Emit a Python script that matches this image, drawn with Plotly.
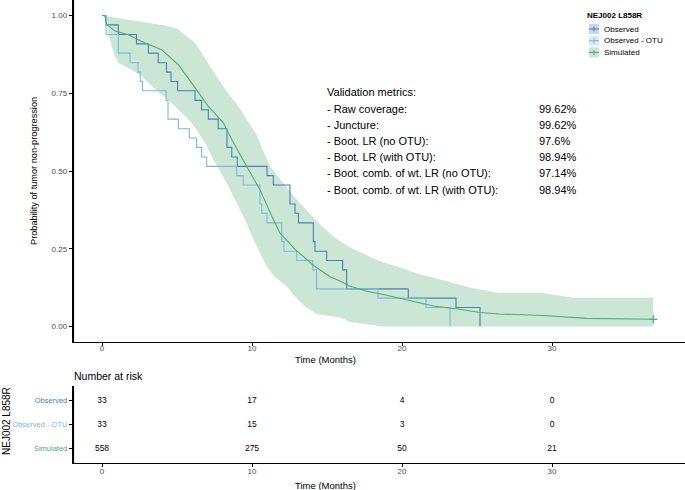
import plotly.graph_objects as go

# ---------------- data ----------------
obs_time = [0, 0.27, 1.09, 2.3, 3.09, 3.75, 4.3, 4.6, 5.04, 6.2, 6.64, 7.09, 7.75, 8.33, 8.65,
            9.02, 11.0, 11.42, 12.53, 12.87, 13.1, 14.09, 14.2, 14.98, 16.04, 16.31, 20.42, 23.6, 25.2]
obs_surv = [1.0, 0.970, 0.939, 0.909, 0.879, 0.848, 0.818, 0.788, 0.758, 0.727, 0.697, 0.667, 0.636,
            0.576, 0.545, 0.515, 0.485, 0.455, 0.394, 0.364, 0.333, 0.273, 0.242, 0.212, 0.182, 0.121,
            0.091, 0.061, 0.0]

otu_time = [0, 0.27, 1.09, 1.87, 2.4, 2.55, 2.7, 4.27, 4.4, 5.09, 5.82, 6.31, 6.64, 6.98, 8.98, 9.42,
            10.53, 10.65, 11.0, 11.98, 12.13, 12.98, 14.05, 14.3, 18.4, 21.6, 23.2]
otu_surv = [1.0, 0.939, 0.879, 0.848, 0.818, 0.788, 0.758, 0.727, 0.667, 0.636, 0.606, 0.576, 0.545,
            0.515, 0.485, 0.455, 0.394, 0.364, 0.333, 0.273, 0.242, 0.212, 0.182, 0.121, 0.091, 0.061, 0.0]

sim_time = [0, 0.2, 0.3, 0.87, 1.75, 2.87, 3.98, 5.09, 6.2, 7.09, 8.09, 8.65, 9.64, 10.53, 11.42, 11.87,
            12.87, 14.09, 15.2, 15.87, 16.5, 17.6, 18.75, 19.9, 21.0, 22.1, 23.6, 25.2, 26.5, 29.4, 32.3,
            35.2, 36.75]
sim_surv = [1.0, 1.0, 0.972, 0.95, 0.938, 0.912, 0.89, 0.842, 0.768, 0.708, 0.655, 0.601, 0.515, 0.44,
            0.344, 0.30, 0.248, 0.197, 0.16, 0.146, 0.13, 0.114, 0.103, 0.09, 0.076, 0.066, 0.057, 0.045,
            0.04, 0.035, 0.026, 0.023, 0.023]

band_up_time = [0, 1.4, 2.5, 3.6, 4.1, 5.0, 5.6, 6.2, 6.7, 7.2, 7.75, 8.25, 9.0, 9.6, 10.3, 10.65, 11.2,
                11.9, 12.75, 13.6, 14.5, 15.4, 16.3, 17.4, 18.5, 19.9, 21.0, 23.0, 24.5, 26.5, 29.4,
                31.4, 36.75]
band_up = [1.0, 0.99, 0.982, 0.974, 0.969, 0.958, 0.935, 0.912, 0.875, 0.837, 0.797, 0.76, 0.714, 0.671,
           0.617, 0.575, 0.515, 0.473, 0.42, 0.376, 0.33, 0.29, 0.26, 0.235, 0.21, 0.19, 0.17, 0.145,
           0.125, 0.108, 0.108, 0.092, 0.092]
band_lo_time = [0, 0.3, 0.42, 0.64, 0.87, 1.09, 1.53, 1.98, 2.64, 3.31, 3.98, 4.64, 5.31, 5.98, 6.42,
                6.87, 7.42, 8.31, 8.75, 9.2, 9.64, 10.09, 10.53, 10.98, 11.5, 12.3, 12.8, 13.5, 14.3,
                15.9, 16.5, 17.5, 18.7, 36.75]
band_lo = [1.0, 0.985, 0.944, 0.901, 0.869, 0.848, 0.837, 0.826, 0.805, 0.773, 0.746, 0.719, 0.687,
           0.655, 0.623, 0.591, 0.537, 0.462, 0.419, 0.376, 0.333, 0.28, 0.237, 0.194, 0.16, 0.13, 0.10,
           0.065, 0.04, 0.028, 0.015, 0.008, 0.0, 0.0]

series_names = ["Observed", "Observed - OTU", "Simulated"]
legend_title = "NEJ002 L858R"
risk_times = [0, 10, 20, 30]
risk_obs = [33, 17, 4, 0]
risk_otu = [33, 15, 3, 0]
risk_sim = [558, 275, 50, 21]

metric_title = "Validation metrics:"
metric_labels = ["- Raw coverage:", "- Juncture:", "- Boot. LR (no OTU):", "- Boot. LR (with OTU):",
                 "- Boot. comb. of wt. LR (no OTU):", "- Boot. comb. of wt. LR (with OTU):"]
metric_values = ["99.62%", "99.62%", "97.6%", "98.94%", "97.14%", "98.94%"]

y_ticks = [0, 0.25, 0.5, 0.75, 1.0]
y_ticktext = ["0.00", "0.25", "0.50", "0.75", "1.00"]
x_ticks = [0, 10, 20, 30]

# ---------------- style ----------------
C_OBS = "#4C7FB3"
C_OTU = "#7DB9DE"
C_SIM = "#52AD70"
FILL = {C_OBS: "rgba(76,127,179,0.30)", C_OTU: "rgba(125,185,222,0.30)", C_SIM: "rgba(82,173,112,0.30)"}
FONT = "Liberation Sans, Arial, sans-serif"
GREY = "#4D4D4D"

W, H = 685, 490
ML = 73
PW = W - ML


def px_x(p):
    return (p - ML) / PW


def px_y(p):
    return (H - p) / H


MAIN_DOM = [px_y(342), 1.0]
TAB_DOM = [px_y(463), px_y(386)]

fig = go.Figure()

# confidence band of the simulated curve
fig.add_trace(go.Scatter(
    x=band_up_time + band_lo_time[::-1], y=band_up + band_lo[::-1],
    fill="toself", fillcolor=FILL[C_SIM], line=dict(width=0), mode="lines",
    showlegend=False, hoverinfo="skip", xaxis="x", yaxis="y"))

fig.add_trace(go.Scatter(x=obs_time, y=obs_surv, mode="lines", line=dict(color=C_OBS, width=1.1, shape="hv"),
                         name=series_names[0], showlegend=False, xaxis="x", yaxis="y"))
fig.add_trace(go.Scatter(x=otu_time, y=otu_surv, mode="lines", line=dict(color=C_OTU, width=1.1, shape="hv"),
                         name=series_names[1], showlegend=False, xaxis="x", yaxis="y"))
fig.add_trace(go.Scatter(x=sim_time, y=sim_surv, mode="lines", line=dict(color=C_SIM, width=1.1),
                         name=series_names[2], showlegend=False, xaxis="x", yaxis="y"))
# censor mark at the end of the simulated curve
fig.add_trace(go.Scatter(x=sim_time[-1:], y=sim_surv[-1:], mode="markers",
                         marker=dict(symbol="cross-thin", size=6, line=dict(color=C_SIM, width=1.2)),
                         showlegend=False, hoverinfo="skip", xaxis="x", yaxis="y"))

# risk table
for row, (vals, c) in enumerate([(risk_sim, C_SIM), (risk_otu, C_OTU), (risk_obs, C_OBS)]):
    fig.add_trace(go.Scatter(x=risk_times, y=[row] * len(risk_times), mode="text",
                             text=[str(v) for v in vals], textfont=dict(size=8.5, color="black", family=FONT),
                             showlegend=False, hoverinfo="skip", xaxis="x2", yaxis="y2"))

xr = [(ML - 102) / 15.0, (W - 102) / 15.0]
axis_common = dict(showline=True, linecolor="black", linewidth=1.2, ticks="outside", ticklen=3,
                   tickcolor="black", tickwidth=1, showgrid=False, zeroline=False,
                   tickfont=dict(size=8, color=GREY, family=FONT))

fig.update_layout(
    width=W, height=H,
    margin=dict(l=ML, r=0, t=0, b=0, autoexpand=False),
    paper_bgcolor="white", plot_bgcolor="white",
    font=dict(family=FONT, color="black"),
    hovermode=False,
    showlegend=False,
    xaxis=dict(domain=[0, 1], range=xr, tickvals=x_ticks, anchor="y", ticklabelstandoff=-5, **axis_common),
    yaxis=dict(domain=MAIN_DOM, range=[-0.05, 1.05], tickvals=y_ticks, ticktext=y_ticktext,
               anchor="x", **axis_common),
    xaxis2=dict(domain=[0, 1], range=xr, tickvals=x_ticks, anchor="y2", ticklabelstandoff=-3, **axis_common),
    yaxis2=dict(domain=TAB_DOM, range=[-0.6, 2.6], tickvals=[2, 1, 0],
                ticktext=[f"<span style='color:{C_OBS}'>{series_names[0]}</span>",
                          f"<span style='color:{C_OTU}'>{series_names[1]}</span>",
                          f"<span style='color:{C_SIM}'>{series_names[2]}</span>"],
                anchor="x2", **{**axis_common, "tickfont": dict(size=7.5, color=GREY, family=FONT)}),
)


def note(text, x, y, size, xanchor="center", angle=0, color="black"):
    return dict(text=text, x=px_x(x), y=px_y(y), xref="paper", yref="paper", xanchor=xanchor,
                yanchor="middle", textangle=angle, showarrow=False,
                font=dict(size=size, color=color, family=FONT))


ann = []
ann.append(note("Probability of tumor non-progression", 34, 171, 9.2, angle=-90))
ann.append(note("Time (Months)", 325, 359, 9.5))
ann.append(note("Time (Months)", 325, 485, 9.5))
ann.append(note("Number at risk", 72, 376, 10.5, xanchor="left"))
ann.append(note("NEJ002 L858R", 6, 421, 10, angle=-90))
ann.append(note(metric_title, 325, 92, 11, xanchor="left"))
for i, (lab, val) in enumerate(zip(metric_labels, metric_values)):
    yy = 108.5 + i * 16.2
    ann.append(note(lab, 325, yy, 11, xanchor="left"))
    ann.append(note(val, 537, yy, 11, xanchor="left"))

shapes = []
# vertical axis lines (left edge of both panels)
for dom in (MAIN_DOM, TAB_DOM):
    shapes.append(dict(type="line", xref="paper", yref="paper", x0=px_x(73.5), x1=px_x(73.5),
                       y0=dom[0], y1=dom[1], line=dict(color="black", width=1.2)))

# legend (drawn as keys: filled square + line + censor tick, like the reference)
ann.append(note(f"<b>{legend_title}</b>", 585, 15, 8, xanchor="left"))
for i, (name, c) in enumerate(zip(series_names, [C_OBS, C_OTU, C_SIM])):
    yc = 29 + i * 11.7
    ann.append(note(name, 602, yc, 8, xanchor="left"))
    shapes.append(dict(type="rect", xref="paper", yref="paper", x0=px_x(589), x1=px_x(599),
                       y0=px_y(yc - 5), y1=px_y(yc + 5), fillcolor=FILL[c], line=dict(width=0)))
    shapes.append(dict(type="line", xref="paper", yref="paper", x0=px_x(589), x1=px_x(599),
                       y0=px_y(yc), y1=px_y(yc), line=dict(color=c, width=1.1)))
    shapes.append(dict(type="line", xref="paper", yref="paper", x0=px_x(594), x1=px_x(594),
                       y0=px_y(yc - 2.5), y1=px_y(yc + 2.5), line=dict(color=c, width=1.1)))

fig.update_layout(annotations=ann, shapes=shapes)

fig.write_html("out.html", config={"staticPlot": True},
               post_script="document.body.style.margin='0';document.body.style.overflow='hidden';")
